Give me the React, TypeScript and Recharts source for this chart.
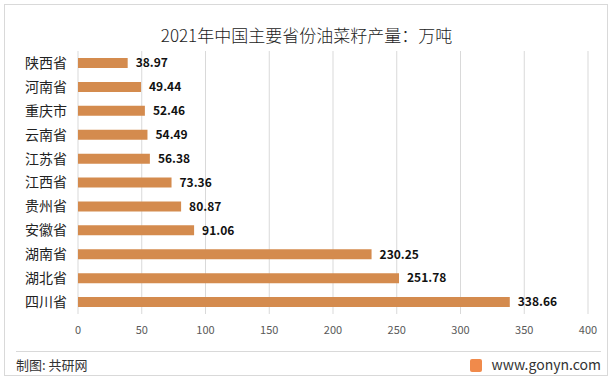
import React from "react";
import { BarChart, Bar, XAxis, YAxis, CartesianGrid, LabelList } from "recharts";

const provinces = ["陕西省", "河南省", "重庆市", "云南省", "江苏省", "江西省", "贵州省", "安徽省", "湖南省", "湖北省", "四川省"];
const output = [38.97, 49.44, 52.46, 54.49, 56.38, 73.36, 80.87, 91.06, 230.25, 251.78, 338.66];
const xTicks = [0, 50, 100, 150, 200, 250, 300, 350, 400];
const title = "2021年中国主要省份油菜籽产量：万吨";

const data = provinces.map((p, i) => ({ name: p, value: output[i] }));
const FONT = "'Noto Sans CJK SC', 'Noto Sans', sans-serif";

export default function App() {
  return (
    <div style={{ position: "absolute", left: 0, top: 0, width: 613, height: 383, background: "#fff", fontFamily: FONT }}>
      <div style={{ position: "absolute", left: 4, top: 4, width: 604, height: 372, border: "1px solid #d9d9d9", boxSizing: "border-box" }} />
      <div style={{ position: "absolute", left: 0, top: 22, width: 613, textAlign: "center", fontSize: 17, color: "#222", lineHeight: "26px", fontWeight: 300 }}>{title}</div>
      <BarChart
        width={613}
        height={383}
        data={data}
        layout="vertical"
        margin={{ top: 51, right: 25, bottom: 39, left: 0 }}
        style={{ position: "absolute", left: 0, top: 0 }}
      >
        <CartesianGrid horizontal={false} vertical={true} stroke="#d9d9d9" />
        <XAxis
          type="number"
          domain={[0, 400]}
          ticks={xTicks}
          axisLine={false}
          tickLine={false}
          tickSize={0}
          tickMargin={12}
          interval={0}
          tick={{ fontSize: 11, fill: "#595959", fontFamily: FONT }}
        />
        <YAxis
          type="category"
          dataKey="name"
          width={78}
          axisLine={false}
          tickLine={false}
          tickSize={0}
          tickMargin={11}
          interval={0}
          tick={{ fontSize: 14, fill: "#222", fontFamily: FONT }}
        />
        <Bar dataKey="value" fill="#D48B4E" barSize={10} isAnimationActive={false}>
          <LabelList dataKey="value" position="right" offset={8} style={{ fontSize: 12, fontWeight: "bold", fill: "#111", fontFamily: FONT }} formatter={(v: number) => v.toFixed(2)} />
        </Bar>
      </BarChart>
      <div style={{ position: "absolute", left: 16, top: 351, width: 585, height: 1, background: "#d9d9d9" }} />
      <div style={{ position: "absolute", left: 16, top: 356, fontSize: 13, color: "#333", lineHeight: "18px" }}>制图: 共研网</div>
      <div style={{ position: "absolute", left: 470, top: 359, width: 12, height: 13, background: "#F08A4B", borderRadius: 2 }} />
      <div style={{ position: "absolute", right: 12, top: 355, fontSize: 14, color: "#333", lineHeight: "18px" }}>www.gonyn.com</div>
    </div>
  );
}
